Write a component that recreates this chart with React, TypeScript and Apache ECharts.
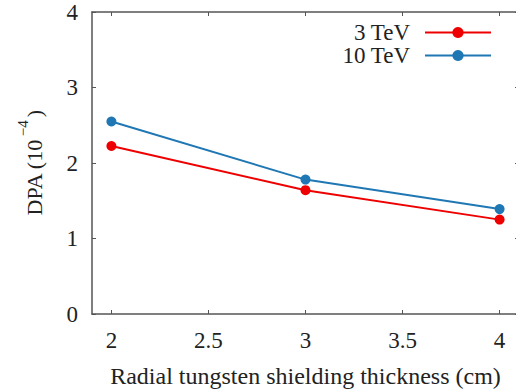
import React, { useEffect, useRef } from "react";
import * as echarts from "echarts";

const thickness = [2, 3, 4];
const dpa3TeV = [2.225, 1.64, 1.25];
const dpa10TeV = [2.55, 1.78, 1.39];
const xTicks = [2, 2.5, 3, 3.5, 4];

const FONT = "'Liberation Serif', 'Times New Roman', serif";
const AXIS_COLOR = "#555";
const TEXT = "#222";

export default function App() {
  const ref = useRef<HTMLDivElement>(null);
  useEffect(() => {
    if (!ref.current) return;
    const chart = echarts.init(ref.current, undefined, { renderer: "svg" });
    const pts = (ys: number[]) => thickness.map((x, i) => [x, ys[i]]);
    const tickRich = { t: { fontFamily: FONT, fontSize: 23, color: TEXT } };
    const xAxisBase = {
      type: "value" as const,
      min: 1.9,
      max: 4.1,
      splitLine: { show: false },
      axisLine: { show: true, onZero: false, lineStyle: { color: AXIS_COLOR, width: 1.5 } },
      axisTick: { show: true, inside: true, length: 4, customValues: xTicks, lineStyle: { color: AXIS_COLOR } },
    };
    const yAxisBase = {
      type: "value" as const,
      min: 0,
      max: 4,
      interval: 1,
      splitLine: { show: false },
      axisLine: { show: true, onZero: false, lineStyle: { color: AXIS_COLOR, width: 1.5 } },
      axisTick: { show: true, inside: true, length: 4, lineStyle: { color: AXIS_COLOR } },
    };
    chart.setOption({
      animation: false,
      backgroundColor: "#fff",
      textStyle: { fontFamily: FONT, color: TEXT },
      grid: { left: 92, top: 12, right: -3, bottom: 76, containLabel: false, outerBoundsMode: "none" },
      legend: {
        orient: "vertical",
        right: 19,
        top: 16,
        align: "right",
        itemWidth: 66,
        itemHeight: 14,
        itemGap: 0,
        textStyle: { fontFamily: FONT, fontSize: 23, color: TEXT, padding: [0, 10, 0, 0] },
        data: ["3 TeV", "10 TeV"],
      },
      xAxis: [
        {
          ...xAxisBase,
          position: "bottom",
          name: "Radial tungsten shielding thickness (cm)",
          nameLocation: "middle",
          nameGap: 50,
          nameTextStyle: { fontFamily: FONT, fontSize: 24, color: TEXT },
          axisLabel: {
            customValues: xTicks,
            margin: 15,
            fontFamily: FONT,
            fontSize: 23,
            color: TEXT,
            formatter: (v: number) => `{t|${v}}`,
            rich: tickRich,
          },
        },
        {
          ...xAxisBase,
          position: "top",
          axisLabel: { show: false },
        },
      ],
      yAxis: [
        {
          ...yAxisBase,
          position: "left",
          name: "{a|DPA (10}{s|−4}{a|)}",
          nameLocation: "middle",
          nameRotate: 90,
          nameGap: 47,
          nameTextStyle: {
            fontFamily: FONT,
            fontSize: 22,
            color: TEXT,
            rich: {
              a: { fontFamily: FONT, fontSize: 22, color: TEXT, lineHeight: 30, verticalAlign: "bottom" },
              s: { fontFamily: FONT, fontSize: 15, color: TEXT, lineHeight: 30, verticalAlign: "top", padding: [0, 3, 0, 3] },
            },
          },
          axisLabel: {
            margin: 14,
            fontFamily: FONT,
            fontSize: 23,
            color: TEXT,
            formatter: (v: number) => `{t|${v}}`,
            rich: tickRich,
          },
        },
        {
          ...yAxisBase,
          position: "right",
          axisLabel: { show: false },
        },
      ],
      series: [
        {
          name: "3 TeV",
          type: "line",
          data: pts(dpa3TeV),
          symbol: "circle",
          symbolSize: 10,
          color: "#ee0000",
          lineStyle: { width: 2, color: "#ee0000" },
          itemStyle: { color: "#ee0000" },
        },
        {
          name: "10 TeV",
          type: "line",
          data: pts(dpa10TeV),
          symbol: "circle",
          symbolSize: 10,
          color: "#1f77b4",
          lineStyle: { width: 2, color: "#1f77b4" },
          itemStyle: { color: "#1f77b4" },
        },
      ],
    });
    return () => chart.dispose();
  }, []);
  return <div ref={ref} style={{ width: 516, height: 390, position: "absolute", left: 0, top: 0 }} />;
}
